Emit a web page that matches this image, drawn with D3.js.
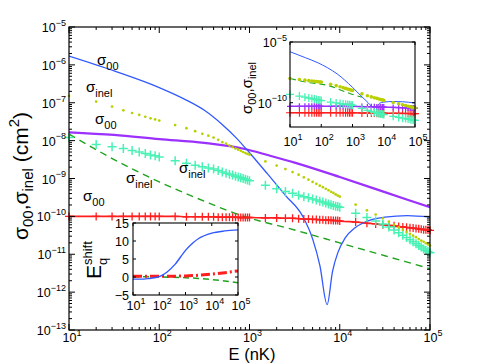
<!DOCTYPE html>
<html><head><meta charset="utf-8">
<script src="https://cdn.jsdelivr.net/npm/d3@7"></script>
<style>
body{margin:0;background:#fff}
svg{display:block}
text{font-family:"Liberation Sans",Arial,Helvetica,sans-serif;fill:#000}
</style></head>
<body><svg id="c" width="485" height="364"></svg>
<script>
// ---------- DATA ----------
// energy grid (nK) of the marker series
const eGrid = [10,20,30,40,50,60,70,80,90,100,
  150,200,250,300,350,400,450,500,550,600,650,700,750,800,850,900,950,1000,
  1500,2000,2500,3000,3500,4000,4500,5000,5500,6000,6500,7000,7500,8000,8500,9000,9500,10000,
  15000,20000,25000,30000,35000,40000,45000,50000,55000,60000,65000,70000,75000,80000,85000,90000,95000,100000];
// log10(sigma_inel) yellow dots
const yellowLog = [-6.82,-6.97,-7.10,-7.20,-7.27,-7.32,-7.37,-7.41,-7.44,-7.47,
  -7.59,-7.67,-7.75,-7.82,-7.87,-7.92,-7.98,-8.04,-8.08,-8.13,-8.17,-8.21,-8.24,-8.27,-8.30,-8.33,-8.35,-8.37,
  -8.55,-8.66,-8.75,-8.83,-8.90,-8.97,-9.03,-9.09,-9.14,-9.19,-9.23,-9.27,-9.31,-9.35,-9.38,-9.42,-9.45,-9.48,
  -9.69,-9.84,-9.95,-10.05,-10.14,-10.22,-10.29,-10.35,-10.41,-10.46,-10.51,-10.55,-10.60,-10.64,-10.67,-10.71,-10.74,-10.77];
// log10(sigma_inel) cyan plus
const cyanLog = [-7.92,-8.10,-8.16,-8.21,-8.26,-8.30,-8.34,-8.38,-8.40,-8.43,
  -8.53,-8.60,-8.65,-8.69,-8.72,-8.75,-8.79,-8.83,-8.86,-8.89,-8.91,-8.94,-8.96,-8.98,-9.00,-9.02,-9.04,-9.06,
  -9.18,-9.27,-9.34,-9.39,-9.44,-9.48,-9.51,-9.54,-9.57,-9.60,-9.62,-9.65,-9.67,-9.69,-9.71,-9.73,-9.74,-9.76,
  -9.92,-10.03,-10.12,-10.20,-10.28,-10.36,-10.43,-10.50,-10.56,-10.62,-10.67,-10.72,-10.77,-10.81,-10.86,-10.90,-10.93,-10.96];
// log10(sigma_00) red plus
const redLog = [-10.00,-10.00,-10.00,-10.00,-10.00,-10.00,-10.00,-10.00,-10.00,-10.00,
  -10.00,-10.01,-10.01,-10.01,-10.01,-10.01,-10.02,-10.02,-10.02,-10.02,-10.02,-10.02,-10.03,-10.03,-10.03,-10.03,-10.03,-10.03,
  -10.04,-10.04,-10.05,-10.05,-10.06,-10.07,-10.07,-10.08,-10.08,-10.09,-10.09,-10.10,-10.10,-10.10,-10.11,-10.11,-10.11,-10.12,
  -10.15,-10.18,-10.20,-10.22,-10.24,-10.25,-10.27,-10.28,-10.29,-10.30,-10.31,-10.32,-10.33,-10.34,-10.35,-10.35,-10.36,-10.37];
// lines: log10(E) and log10(sigma)
const blueLogE = [1,1.5,2,2.3,2.5,2.7,2.85,3.0,3.2,3.4,3.59,3.7,3.78,3.86,3.92,3.98,4.06,4.17,4.28,4.5,4.75,5];
const blueLog  = [-5.77,-6.16,-6.6,-6.93,-7.2,-7.58,-7.92,-8.32,-8.88,-9.45,-10.0,-10.6,-11.3,-12.33,-11.45,-10.95,-10.57,-10.3,-10.15,-10.02,-9.98,-10.02];
const purpleLogE = [1,1.5,2,2.5,2.95,3.2,3.5,4,4.5,5];
const purpleLog  = [-7.78,-7.85,-7.96,-8.06,-8.22,-8.38,-8.58,-8.96,-9.36,-9.76];
const greenLogE = [1,1.25,1.5,2,2.5,2.9,3.5,4,4.5,5];
const greenLog  = [-7.83,-8.17,-8.5,-9.09,-9.6,-9.97,-10.36,-10.7,-11.04,-11.38];

// inset 1
const insetGrid = [10,20,30,40,50,60,70,80,90,100,200,300,400,500,600,700,800,900,1000,
  2000,3000,4000,5000,6000,7000,8000,9000,10000,20000,30000,40000,50000,60000,70000,80000,90000,100000];
const inYellowLog = [-8.00,-8.09,-8.14,-8.18,-8.21,-8.23,-8.25,-8.27,-8.29,-8.30,
  -8.48,-8.59,-8.68,-8.76,-8.82,-8.88,-8.92,-8.96,-9.00,
  -9.27,-9.43,-9.52,-9.59,-9.64,-9.69,-9.73,-9.77,-9.80,
  -9.98,-10.09,-10.17,-10.23,-10.29,-10.33,-10.37,-10.40,-10.43];
const inCyanLog = [-9.32,-9.45,-9.54,-9.61,-9.66,-9.70,-9.74,-9.77,-9.80,-9.82,
  -9.95,-10.02,-10.07,-10.10,-10.13,-10.15,-10.17,-10.18,-10.20,
  -10.47,-10.63,-10.72,-10.79,-10.84,-10.88,-10.92,-10.95,-10.98,
  -11.12,-11.21,-11.27,-11.31,-11.35,-11.38,-11.41,-11.43,-11.45];
const inPurpleLog = [-10.30,-10.30,-10.30,-10.30,-10.30,-10.30,-10.30,-10.30,-10.30,-10.30,
  -10.30,-10.30,-10.30,-10.30,-10.30,-10.30,-10.30,-10.30,-10.30,
  -10.32,-10.33,-10.33,-10.34,-10.35,-10.35,-10.35,-10.36,-10.36,
  -10.39,-10.40,-10.41,-10.42,-10.43,-10.43,-10.44,-10.44,-10.45];
const inRedLog = [-10.83,-10.83,-10.83,-10.83,-10.83,-10.83,-10.83,-10.83,-10.83,-10.83,
  -10.83,-10.83,-10.83,-10.83,-10.83,-10.83,-10.83,-10.83,-10.83,
  -10.84,-10.85,-10.85,-10.85,-10.86,-10.86,-10.86,-10.86,-10.86,
  -10.87,-10.88,-10.88,-10.89,-10.89,-10.89,-10.90,-10.90,-10.90];
const inBlueLogE = [1,1.5,1.9,2.2,2.52,2.99,3.3,3.5,3.61,3.7,3.8,3.87,4.0,4.29,4.6,5];
const inBlueLog  = [-5.8,-6.3,-6.72,-7.12,-7.65,-8.71,-9.51,-10.0,-10.3,-10.38,-10.22,-10.04,-9.95,-9.9,-9.92,-10.03];
const inGreenLogE = [1,1.5,2.21,2.83,3.14,3.3];
const inGreenLog  = [-8.0,-8.3,-8.58,-9.16,-9.43,-9.55];

// inset 2 : E_q^shift
const shiftBlueLogE = [1,1.3,1.6,2.0,2.3,2.6,3.0,3.3,3.5,4.0,4.5,5];
const shiftBlue = [-0.6,-0.6,-0.4,0.1,1.4,3.5,7.4,9.6,10.7,12.2,12.8,13.1];
const shiftRedLogE = [1,2,3,3.5,4,4.5,5];
const shiftRed = [0.2,0.2,0.3,0.5,0.8,1.2,1.7];
const shiftGreenLogE = [1,2,3,3.5,4,4.5,5];
const shiftGreen = [0.1,0.0,-0.2,-0.4,-0.7,-1.1,-1.6];

const xDecades = [1,2,3,4,5];
const yDecades = [-13,-12,-11,-10,-9,-8,-7,-6,-5];

// ---------- STYLE ----------
const C = {blue:"#3159ff", purple:"#9b30ff", yellow:"#b8cf00", cyan:"#48f2b4", red:"#ff1e1e", green:"#1fa31f"};
const svg = d3.select("#c");

function supText(sel, base, exp, fs){
  sel.text(null);
  sel.append("tspan").text(base);
  sel.append("tspan").attr("dy", -fs*0.5).attr("font-size", fs*0.72).text(exp);
}
function minorVals(lo, hi){
  const out=[]; for(let p=lo;p<hi;p++) for(let m=2;m<=9;m++) out.push(m*Math.pow(10,p)); return out;
}
function plus(g, pts, x, y, color, s, w){
  g.selectAll(null).data(pts).join("path")
   .attr("d", d=>`M${x(d[0])-s},${y(d[1])}H${x(d[0])+s}M${x(d[0])},${y(d[1])-s}V${y(d[1])+s}`)
   .attr("stroke", color).attr("stroke-width", w).attr("fill","none");
}
function dots(g, pts, x, y, color, r){
  g.selectAll(null).data(pts).join("circle")
   .attr("cx", d=>x(d[0])).attr("cy", d=>y(d[1])).attr("r", r).attr("fill", color);
}
function line(g, pts, x, y, color, w, dash){
  const l = d3.line().x(d=>x(d[0])).y(d=>y(d[1])).curve(d3.curveMonotoneX);
  const p = g.append("path").attr("d", l(pts)).attr("fill","none").attr("stroke",color).attr("stroke-width",w);
  if(dash) p.attr("stroke-dasharray", dash);
  return p;
}
const P = (E, L) => E.map((e,i)=>[e, Math.pow(10, L[i])]);
const PL = (LE, L) => LE.map((e,i)=>[Math.pow(10,e), Math.pow(10, L[i])]);
const PV = (LE, V) => LE.map((e,i)=>[Math.pow(10,e), V[i]]);

// ---------- MAIN ----------
const X0=69, X1=430, Y0=27, Y1=330;
const x = d3.scaleLog().domain([10,1e5]).range([X0,X1]);
const y = d3.scaleLog().domain([1e-13,1e-5]).range([Y1,Y0]);

svg.append("clipPath").attr("id","mc").append("rect").attr("x",X0).attr("y",Y0).attr("width",X1-X0).attr("height",Y1-Y0);

const mg = svg.append("g");
const clipG = mg.append("g").attr("clip-path","url(#mc)");

line(clipG, P(eGrid, redLog), x, y, C.red, 1.6);
plus(mg, P(eGrid, redLog), x, y, C.red, 4, 1.3);
plus(mg, P(eGrid, cyanLog), x, y, C.cyan, 4.5, 1.5);
dots(mg, P(eGrid, yellowLog), x, y, C.yellow, 1.35);
line(clipG, PL(greenLogE, greenLog), x, y, C.green, 1.4, "7,5");
line(clipG, PL(purpleLogE, purpleLog), x, y, C.purple, 2.2);
line(clipG, PL(blueLogE, blueLog), x, y, C.blue, 1.3);

// frame and ticks
const fr = svg.append("g");
fr.append("rect").attr("x",X0).attr("y",Y0).attr("width",X1-X0).attr("height",Y1-Y0)
  .attr("fill","none").attr("stroke","#000").attr("stroke-width",1.2);
const xMaj = xDecades.map(p=>Math.pow(10,p)), yMaj = yDecades.map(p=>Math.pow(10,p));
const xMin = minorVals(1,5), yMin = minorVals(-13,-5);
function ticksX(g, xs, scale, ya, yb, len){
  g.selectAll(null).data(xs).join("line")
   .attr("x1",d=>scale(d)).attr("x2",d=>scale(d)).attr("y1",ya).attr("y2",ya-len).attr("stroke","#000");
  g.selectAll(null).data(xs).join("line")
   .attr("x1",d=>scale(d)).attr("x2",d=>scale(d)).attr("y1",yb).attr("y2",yb+len).attr("stroke","#000");
}
function ticksY(g, ys, scale, xa, xb, len){
  g.selectAll(null).data(ys).join("line")
   .attr("y1",d=>scale(d)).attr("y2",d=>scale(d)).attr("x1",xa).attr("x2",xa+len).attr("stroke","#000");
  g.selectAll(null).data(ys).join("line")
   .attr("y1",d=>scale(d)).attr("y2",d=>scale(d)).attr("x1",xb).attr("x2",xb-len).attr("stroke","#000");
}
ticksX(fr, xMaj, x, Y1, Y0, 6);
ticksX(fr, xMin, x, Y1, Y0, 3);
ticksY(fr, yMaj, y, X0, X1, 6);
ticksY(fr, yMin, y, X0, X1, 3);

fr.selectAll(null).data(xDecades).join("text")
  .attr("x", d=>x(Math.pow(10,d))+3).attr("y", 342).attr("text-anchor","middle").attr("font-size",12.5)
  .each(function(d){ supText(d3.select(this), "10", String(d), 12.5); });
fr.selectAll(null).data(yDecades).join("text")
  .attr("x", 66).attr("y", d=>y(Math.pow(10,d))+5).attr("text-anchor","end").attr("font-size",12.5)
  .each(function(d){ supText(d3.select(this), "10", "\u2212"+String(-d), 12.5); });

svg.append("text").attr("x",252).attr("y",360.3).attr("text-anchor","middle").attr("font-size",16.5).text("E (nK)");
const yl = svg.append("text").attr("transform","translate(28,176) rotate(-90)").attr("text-anchor","middle").attr("font-size",21);
yl.append("tspan").text("\u03c3");
yl.append("tspan").attr("font-size",15).attr("dy",5).text("00");
yl.append("tspan").attr("dy",-5).text(",\u03c3");
yl.append("tspan").attr("font-size",15).attr("dy",5).text("inel");
yl.append("tspan").attr("dy",-5).text(" (cm");
yl.append("tspan").attr("font-size",15).attr("dy",-9).text("2");
yl.append("tspan").attr("dy",9).text(")");

function sigLabel(xx, yy, sub){
  const t = svg.append("text").attr("x",xx).attr("y",yy).attr("font-size",15);
  t.append("tspan").text("\u03c3");
  t.append("tspan").attr("font-size",11).attr("dy",5).text(sub);
}
sigLabel(97,65,"00");
sigLabel(86,92,"inel");
sigLabel(95,124,"00");
sigLabel(179,173,"inel");
sigLabel(126,183,"inel");
sigLabel(83,201,"00");

// ---------- INSET 1 ----------
const A0=290, A1=415, B0=42, B1=127;
const ix = d3.scaleLog().domain([10,1e5]).range([A0,A1]);
const iy = d3.scaleLog().domain([1e-12,1e-5]).range([B1,B0]);
svg.append("clipPath").attr("id","ic").append("rect").attr("x",A0).attr("y",B0).attr("width",A1-A0).attr("height",B1-B0);
svg.append("rect").attr("x",A0).attr("y",B0).attr("width",A1-A0).attr("height",B1-B0).attr("fill","#fff");
const ig = svg.append("g");
const igc = ig.append("g").attr("clip-path","url(#ic)");
line(igc, P(insetGrid, inRedLog), ix, iy, C.red, 1.5);
plus(ig, P(insetGrid, inRedLog), ix, iy, C.red, 4, 1.1);
line(igc, P(insetGrid, inPurpleLog), ix, iy, C.purple, 1.5);
plus(ig, P(insetGrid, inPurpleLog), ix, iy, C.purple, 3, 1.3);
plus(ig, P(insetGrid, inCyanLog), ix, iy, C.cyan, 4, 1.3);
dots(ig, P(insetGrid, inYellowLog), ix, iy, C.yellow, 1.8);
line(igc, PL(inGreenLogE, inGreenLog), ix, iy, C.green, 1.1, "6,4");
line(igc, PL(inBlueLogE, inBlueLog), ix, iy, C.blue, 1);
ig.append("rect").attr("x",A0).attr("y",B0).attr("width",A1-A0).attr("height",B1-B0)
  .attr("fill","none").attr("stroke","#000").attr("stroke-width",1.1);
ticksX(ig, xMaj, ix, B1, B0, 3);
ticksY(ig, [1e-5,1e-10], iy, A0, A1, 3);
ig.selectAll(null).data(xDecades).join("text")
  .attr("x", d=>ix(Math.pow(10,d))+3).attr("y", 146).attr("text-anchor","middle").attr("font-size",12.5)
  .each(function(d){ supText(d3.select(this), "10", String(d), 12.5); });
ig.selectAll(null).data([-5,-10]).join("text")
  .attr("x", 287).attr("y", d=>iy(Math.pow(10,d))+5).attr("text-anchor","end").attr("font-size",12.5)
  .each(function(d){ supText(d3.select(this), "10", "\u2212"+String(-d), 12.5); });
const il = svg.append("text").attr("transform","translate(252,88) rotate(-90)").attr("text-anchor","middle").attr("font-size",15);
il.append("tspan").text("\u03c3");
il.append("tspan").attr("font-size",11).attr("dy",4).text("00");
il.append("tspan").attr("dy",-4).text(",\u03c3");
il.append("tspan").attr("font-size",11).attr("dy",4).text("inel");

// ---------- INSET 2 ----------
const Q0=133, Q1=238, R0=223, R1=295;
const ex = d3.scaleLog().domain([10,1e5]).range([Q0,Q1]);
const ey = d3.scaleLinear().domain([-5,15]).range([R1,R0]);
svg.append("clipPath").attr("id","sc").append("rect").attr("x",Q0).attr("y",R0).attr("width",Q1-Q0).attr("height",R1-R0);
svg.append("rect").attr("x",Q0).attr("y",R0).attr("width",Q1-Q0).attr("height",R1-R0).attr("fill","#fff");
const sg = svg.append("g");
const sgc = sg.append("g").attr("clip-path","url(#sc)");
line(sgc, PV(shiftGreenLogE, shiftGreen), ex, ey, C.green, 1.5, "6,4");
line(sgc, PV(shiftRedLogE, shiftRed), ex, ey, C.red, 3, "9,3,2,3");
line(sgc, PV(shiftBlueLogE, shiftBlue), ex, ey, C.blue, 1.4);
sg.append("rect").attr("x",Q0).attr("y",R0).attr("width",Q1-Q0).attr("height",R1-R0)
  .attr("fill","none").attr("stroke","#000").attr("stroke-width",1.1);
const yTicks2 = [-5,0,5,10,15];
ticksX(sg, xMaj, ex, R1, R0, 3);
ticksY(sg, yTicks2, ey, Q0, Q1, 3);
sg.selectAll(null).data(xDecades).join("text")
  .attr("x", d=>ex(Math.pow(10,d))+3).attr("y", 310).attr("text-anchor","middle").attr("font-size",12.5)
  .each(function(d){ supText(d3.select(this), "10", String(d), 12.5); });
sg.selectAll(null).data(yTicks2).join("text")
  .attr("x", 129).attr("y", d=>ey(d)+4.5).attr("text-anchor","end").attr("font-size",12.5)
  .text(d=> d<0 ? "\u2212"+(-d) : String(d));
const el = svg.append("g").attr("transform","translate(101,257) rotate(-90)");
el.append("text").attr("x",-22).attr("y",0).attr("font-size",21).text("E");
el.append("text").attr("x",-8).attr("y",-9).attr("font-size",13).text("shift");
el.append("text").attr("x",-8).attr("y",6).attr("font-size",13).text("q");
</script>
</body></html>
